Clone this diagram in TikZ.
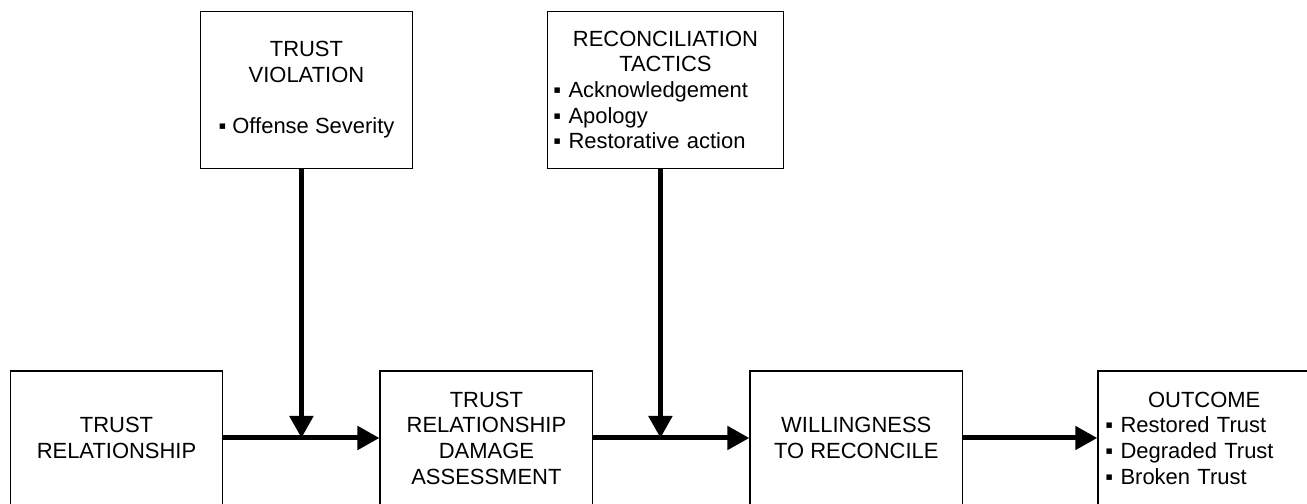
\documentclass[tikz,border=0pt]{standalone}
\usepackage{fontspec}
\setmainfont{Liberation Sans}
\usepackage{tikz}
\usetikzlibrary{arrows.meta, positioning, calc}

\newcommand{\boxtitle}[1]{\leavevmode\null\hskip 0pt plus 1filll #1\hskip 0pt plus 1filll\null}

\begin{document}
\begin{tikzpicture}[
    mainbox/.style={rectangle, draw=black, line width=0.8pt, minimum width=4.25cm, minimum height=2.68cm, align=center, font=\fontsize{12.5}{14.6}\selectfont},
    topbox/.style={mainbox, minimum height=3.14cm},
    listbox/.style={align=left, inner sep=0.15cm},
    flow/.style={-{Triangle[length=0.44cm, width=0.46cm]}, line width=0.1cm},
    node distance=3.12cm
]
\useasboundingbox (0,0) rectangle (26.14,10.08);
\clip (0,0) rectangle (26.14,10.08);

% Main chain
\node[mainbox] (trust) at (2.33,1.32) {TRUST\\RELATIONSHIP};
\node[mainbox, right=of trust] (damage) {TRUST\\RELATIONSHIP\\DAMAGE\\ASSESSMENT};
\node[mainbox, right=of damage] (willing) {WILLINGNESS\\TO RECONCILE};
\node[mainbox, listbox, text width=3.95cm, right=2.68cm of willing] (outcome) {\boxtitle{OUTCOME}\\▪ Restored Trust\\▪ Degraded Trust\\▪ Broken Trust};

% Join points on the chain
\coordinate (m1) at ($(trust.east)!0.5!(damage.west)$);
\coordinate (m2) at ($(damage.east)!0.43!(willing.west)$);

% Influences from above
\node[topbox, above=5.38cm of m1, xshift=0.1cm] (violation) {TRUST\\VIOLATION\\[\baselineskip]▪ Offense Severity};
\node[topbox, listbox, minimum width=4.72cm, inner sep=0.12cm, text width=4.48cm, above=5.38cm of m2, xshift=0.1cm] (tactics) {\boxtitle{RECONCILIATION}\\\boxtitle{TACTICS}\\▪ Acknowledgement\\▪ Apology\\▪ Restorative action};

% Arrows
\draw[flow] (trust) -- (damage);
\draw[flow] (damage) -- (willing);
\draw[flow] (willing) -- (outcome);
\draw[flow] (violation.south -| m1) -- (m1);
\draw[flow] (tactics.south -| m2) -- (m2);

\end{tikzpicture}
\end{document}
